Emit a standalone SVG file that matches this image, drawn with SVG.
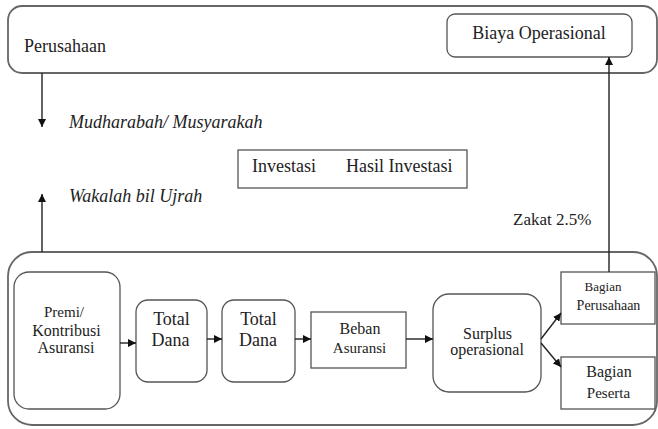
<svg xmlns="http://www.w3.org/2000/svg" width="658" height="429" viewBox="0 0 658 429">
<style>
.box{fill:#fff;stroke:#555;stroke-width:1.3}
.outer{fill:#fff;stroke:#666;stroke-width:1.8}
.ln{stroke:#222;stroke-width:1.4;fill:none}
</style>
<defs>
<marker id="ah" viewBox="0 0 10 10" refX="10" refY="5" markerWidth="8" markerHeight="8" markerUnits="userSpaceOnUse" orient="auto">
<path d="M0,0 L10,5 L0,10 Z" fill="#111"/>
</marker>
</defs>
<rect width="658" height="429" fill="#fff"/>
<g font-family="Liberation Serif" fill="#222">
<g id="perusahaan">
<rect class="outer" x="8" y="6" width="649" height="67" rx="14"/>
<text x="24" y="52" font-size="18">Perusahaan</text>
</g>
<g id="biaya">
<rect class="box" x="447" y="14" width="185" height="43" rx="8"/>
<text x="539" y="39" font-size="18" text-anchor="middle">Biaya Operasional</text>
</g>
<g id="investasi">
<rect class="box" x="238" y="150" width="229" height="38"/>
<text x="252" y="172" font-size="18">Investasi</text>
<text x="346" y="172" font-size="18">Hasil Investasi</text>
</g>
<g id="labels">
<text x="69" y="128" font-size="18" font-style="italic">Mudharabah/ Musyarakah</text>
<text x="69" y="202" font-size="18" font-style="italic">Wakalah bil Ujrah</text>
<text x="513" y="225" font-size="17">Zakat 2.5%</text>
</g>
<g id="dana-box">
<rect class="outer" x="8" y="252" width="649" height="173" rx="24"/>
</g>
<g id="premi">
<rect class="box" x="14" y="272" width="106" height="137" rx="15"/>
<text x="64" y="317" font-size="15" text-anchor="middle">Premi/</text>
<text x="66.5" y="336" font-size="16" text-anchor="middle">Kontribusi</text>
<text x="66" y="353" font-size="16" text-anchor="middle">Asuransi</text>
</g>
<g id="total1">
<rect class="box" x="136" y="300" width="71" height="82" rx="12"/>
<text x="171.5" y="325" font-size="18" text-anchor="middle">Total</text>
<text x="170.5" y="346" font-size="18" text-anchor="middle">Dana</text>
</g>
<g id="total2">
<rect class="box" x="222" y="300" width="73" height="82" rx="12"/>
<text x="258.5" y="325" font-size="18" text-anchor="middle">Total</text>
<text x="258" y="346" font-size="18" text-anchor="middle">Dana</text>
</g>
<g id="beban">
<rect class="box" x="311" y="312" width="95" height="56"/>
<text x="360" y="334" font-size="16" text-anchor="middle">Beban</text>
<text x="359.5" y="353" font-size="15" text-anchor="middle">Asuransi</text>
</g>
<g id="surplus">
<rect class="box" x="433" y="294" width="108" height="98" rx="16"/>
<text x="487.5" y="339" font-size="16" text-anchor="middle">Surplus</text>
<text x="487" y="355" font-size="16" text-anchor="middle">operasional</text>
</g>
<g id="bagian-perusahaan">
<rect class="box" x="561" y="272" width="94" height="52"/>
<text x="603" y="291" font-size="13" text-anchor="middle">Bagian</text>
<text x="608.5" y="310" font-size="14" text-anchor="middle">Perusahaan</text>
</g>
<g id="bagian-peserta">
<rect class="box" x="561" y="357" width="94" height="52"/>
<text x="609" y="377" font-size="16" text-anchor="middle">Bagian</text>
<text x="608.5" y="398" font-size="15" text-anchor="middle">Peserta</text>
</g>
</g>
<g id="connectors">
<line class="ln" x1="42" y1="73" x2="42" y2="127" marker-end="url(#ah)"/>
<line class="ln" x1="42" y1="252" x2="42" y2="194" marker-end="url(#ah)"/>
<line class="ln" x1="609" y1="272" x2="609" y2="57" marker-end="url(#ah)"/>
<line class="ln" x1="120" y1="343" x2="136" y2="343" marker-end="url(#ah)"/>
<line class="ln" x1="207" y1="339" x2="222" y2="339" marker-end="url(#ah)"/>
<line class="ln" x1="295" y1="339" x2="311" y2="339" marker-end="url(#ah)"/>
<line class="ln" x1="406" y1="339" x2="433" y2="339" marker-end="url(#ah)"/>
<line class="ln" x1="541" y1="339" x2="561" y2="313" marker-end="url(#ah)"/>
<line class="ln" x1="541" y1="343" x2="561" y2="367" marker-end="url(#ah)"/>
</g>
</svg>
